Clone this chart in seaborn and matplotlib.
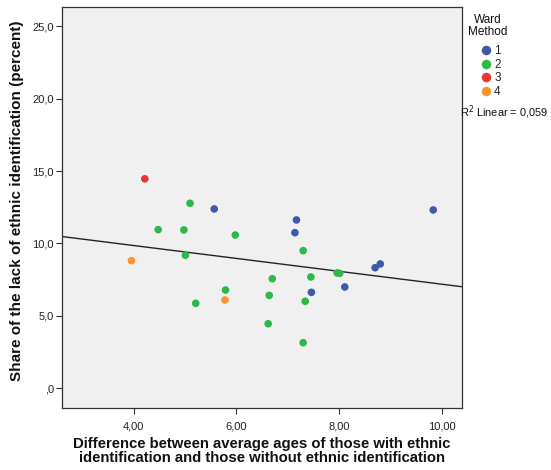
import matplotlib
matplotlib.use("Agg")
import matplotlib.pyplot as plt
import seaborn as sns
import pandas as pd
import numpy as np

# ---- data ----
cluster1_x = [5.57, 7.17, 7.14, 7.46, 8.11, 8.70, 8.80, 9.83]
cluster1_y = [12.38, 11.62, 10.74, 6.62, 6.99, 8.32, 8.58, 12.31]
cluster2_x = [5.10, 4.48, 4.98, 5.98, 5.01, 5.79, 5.21, 7.30, 6.70, 7.45, 6.64, 7.34, 6.62, 7.30, 7.96, 8.01]
cluster2_y = [12.77, 10.95, 10.93, 10.58, 9.18, 6.78, 5.86, 9.50, 7.56, 7.68, 6.41, 6.00, 4.45, 3.14, 7.96, 7.93]
cluster3_x = [4.22]
cluster3_y = [14.46]
cluster4_x = [3.96, 5.78]
cluster4_y = [8.81, 6.09]

cluster_names = ["1", "2", "3", "4"]
cluster_colors = ["#3E58AC", "#2EB848", "#EB3239", "#F8962A"]

x_ticks = [4, 6, 8, 10]
x_ticklabels = ["4,00", "6,00", "8,00", "10,00"]
y_ticks = [0, 5, 10, 15, 20, 25]
y_ticklabels = [",0", "5,0", "10,0", "15,0", "20,0", "25,0"]

xlabel = "Difference between average ages of those with ethnic\nidentification and those without ethnic identification"
ylabel = "Share of the lack of ethnic identification (percent)"
legend_title = "Ward\nMethod"
r2_text = "R$^2$ Linear = 0,059"

xs = [cluster1_x, cluster2_x, cluster3_x, cluster4_x]
ys = [cluster1_y, cluster2_y, cluster3_y, cluster4_y]
df = pd.concat([pd.DataFrame({"x": a, "y": b, "Ward": n}) for a, b, n in zip(xs, ys, cluster_names)],
               ignore_index=True)

# ---- plot ----
sns.set_style("white")
plt.rcParams["font.family"] = ["Liberation Sans", "DejaVu Sans"]

fig = plt.figure(figsize=(5.51, 4.70), dpi=100)
ax = fig.add_axes([62.4 / 551, 1 - 408 / 470, (461.5 - 62.4) / 551, (408 - 6.7) / 470])
ax.set_facecolor("#F0F0F0")
ax.set_xlim(2.617, 10.38)
ax.set_ylim(-1.37, 26.35)

sns.regplot(data=df, x="x", y="y", scatter=False, ci=None, truncate=False,
            color="#222222", line_kws={"linewidth": 1.0}, ax=ax)
sns.scatterplot(data=df, x="x", y="y", hue="Ward", hue_order=cluster_names,
                palette=dict(zip(cluster_names, cluster_colors)), s=30,
                edgecolor="none", legend=True, ax=ax, zorder=3)
ax.set_xlim(2.617, 10.38)
ax.set_ylim(-1.37, 26.35)

ax.set_xticks(x_ticks)
ax.set_xticklabels(x_ticklabels)
ax.set_yticks(y_ticks)
ax.set_yticklabels(y_ticklabels)
ax.tick_params(axis="both", direction="out", length=4, width=0.8, color="#333333",
               labelsize=8, labelcolor="#222222", pad=2, bottom=True, left=True)
ax.tick_params(axis="x", pad=6)
for sp in ax.spines.values():
    sp.set_color("#333333")
    sp.set_linewidth(0.9)

ax.set_xlabel("")
ax.set_ylabel("")
fig.text(262 / 551, 1 - 451 / 470, xlabel, ha="center", va="center", fontsize=10.75,
         fontweight="bold", linespacing=0.92, color="#111111")
fig.text(17 / 551, 1 - 201 / 470, ylabel, ha="center", va="center", rotation=90,
         fontsize=11, fontweight="bold", color="#111111")

sns.move_legend(ax, loc="upper left", bbox_to_anchor=(480 / 551, 1 - 45.5 / 470),
                bbox_transform=fig.transFigure, title=None, frameon=False,
                fontsize=8.5, handlelength=1.0, handletextpad=0.2, labelspacing=0.12,
                borderpad=0, borderaxespad=0, markerscale=1.25)

fig.text(488 / 551, 1 - 26 / 470, legend_title, ha="center", va="center", fontsize=8.5,
         linespacing=1.0, multialignment="center", color="#111111")
fig.text(460 / 551, 1 - 112 / 470, r2_text, ha="left", va="center", fontsize=7.9, color="#111111")

fig.savefig("out.png", dpi=100)
